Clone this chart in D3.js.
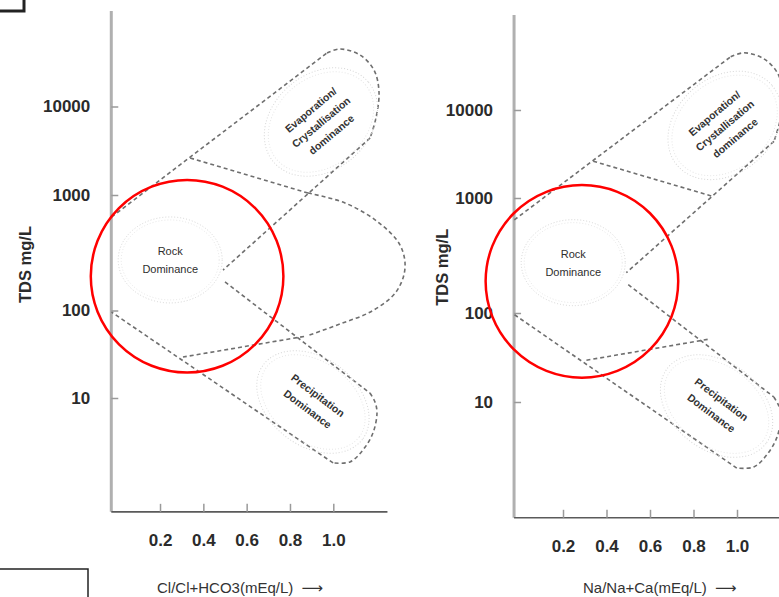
<!DOCTYPE html>
<html lang="en">

<head>
  <meta charset="UTF-8">
  <title>Gibbs Diagram</title>
  <script src="https://d3js.org/d3.v7.min.js"></script>
  <style>
    body {
      margin: 0;
      background: #fff;
    }

    svg {
      display: block;
    }

    .tick text {
      font-family: "Liberation Sans", Arial, sans-serif;
      font-size: 17px;
      font-weight: bold;
      fill: #2b2b2b;
    }

    .tick line {
      stroke: #9a9a9a;
      stroke-width: 1.5;
    }

    .zone {
      fill: none;
      stroke: #6f6f6f;
      stroke-width: 1.6;
      stroke-dasharray: 4 3;
    }

    .halo {
      fill: none;
      stroke: #d6d6d6;
      stroke-width: 1;
      stroke-dasharray: 1 2;
    }

    .zone-label {
      font-family: "Liberation Sans", Arial, sans-serif;
      font-size: 10.5px;
      font-weight: bold;
      fill: #333;
    }

    .rock-label {
      font-family: "Liberation Sans", Arial, sans-serif;
      font-size: 11px;
      fill: #2e2e2e;
    }

    .y-title {
      font-family: "Liberation Sans", Arial, sans-serif;
      font-size: 16.5px;
      font-weight: bold;
      fill: #2b2b2b;
    }

    .x-title {
      font-family: "Liberation Sans", Arial, sans-serif;
      font-size: 15px;
      fill: #333;
    }
  </style>
</head>

<body>
  <div id="chart"></div>

  <script>
    const width = 779
    const height = 597

    const yTicks = [10, 100, 1000, 10000]
    const xTicks = [0.2, 0.4, 0.6, 0.8, 1.0]
    const xTitles = ['Cl/Cl+HCO3(mEq/L)', 'Na/Na+Ca(mEq/L)']
    const yTitle = 'TDS mg/L'

    // zone boundaries as [ratio, TDS mg/L]
    const evapUpper = [[-0.024, 645], [0.971, 40300]]
    const evapCap = [[0.971, 40300], [1.031, 44650], [1.123, 38200], [1.188, 25800], [1.211, 14600], [1.197, 7410], [1.170, 4410]]
    const evapLower = [[1.170, 4410], [0.491, 224]]
    const evapBase = [[0.339, 2620], [0.883, 1053]]
    const loopArc = [[0.883, 1053], [1.054, 853], [1.206, 584], [1.308, 369], [1.331, 233], [1.290, 145], [1.179, 98.7], [1.031, 70.1], [0.879, 51.2]]
    const precipBase = [[0.865, 50.5], [0.306, 29.4]]
    const precipUpper = [[0.5, 176.6], [1.169, 11.4]]
    const precipCap = [[1.169, 11.4], [1.1925, 9.0], [1.2017, 6.74], [1.183, 3.98], [1.137, 2.55], [1.077, 1.86], [0.999, 1.81]]
    const precipLower = [[0.999, 1.81], [-0.024, 96]]

    const rockAt = [0.247, 274]
    const evapAt = [0.943, 6680]
    const precipAt = [0.906, 9.0]
    const highlight = [[0.325, 198], [0.287, 188.5]]

    const xFrame = [-0.025, 1.25]
    const yFrame = [0.5, 120000]

    const panels = [
      { xRange: [116.7, 333.3], yRange: [398, 310.5, 195, 106.5], titleX: 157, yTitleX: 25, loop: true },
      { xRange: [519.5, 737], yRange: [402, 313, 198, 110], titleX: 583, yTitleX: 442, loop: false }
    ]

    const svg = d3.select('#chart')
      .append('svg')
      .attr('width', width)
      .attr('height', height)

    // stray frame pieces from the source figure
    svg.append('rect')
      .attr('x', -10).attr('y', -10).attr('width', 34).attr('height', 21)
      .attr('fill', 'none').attr('stroke', '#222').attr('stroke-width', 3)
    svg.append('rect')
      .attr('x', -10).attr('y', 569).attr('width', 98).attr('height', 40)
      .attr('fill', 'none').attr('stroke', '#222').attr('stroke-width', 1.5)

    panels.forEach((p, i) => {
      const x = d3.scaleLinear().domain([0, 1]).range(p.xRange)
      const y = d3.scaleLog().domain(yTicks).range(p.yRange)
      const g = svg.append('g')

      const line = d3.line().x(d => x(d[0])).y(d => y(d[1]))
      const smooth = d3.line().x(d => x(d[0])).y(d => y(d[1])).curve(d3.curveCatmullRom.alpha(0.5))

      // axes
      g.append('line')
        .attr('x1', x(xFrame[0])).attr('x2', x(xFrame[0]))
        .attr('y1', y(yFrame[1])).attr('y2', y(yFrame[0]))
        .attr('stroke', '#b0b0b0').attr('stroke-width', 3)

      g.append('line')
        .attr('x1', x(xFrame[0])).attr('x2', x(xFrame[1]))
        .attr('y1', y(yFrame[0])).attr('y2', y(yFrame[0]))
        .attr('stroke', '#5a5a5a').attr('stroke-width', 1.6)

      g.append('g')
        .attr('transform', `translate(${x(xFrame[0])},0)`)
        .call(d3.axisLeft(y).tickValues(yTicks).tickFormat(d3.format('d'))
          .tickSizeInner(-7).tickSizeOuter(0).tickPadding(21))
        .call(a => a.select('.domain').remove())

      g.append('g')
        .attr('transform', `translate(0,${y(yFrame[0])})`)
        .call(d3.axisBottom(x).tickValues(xTicks).tickFormat(d3.format('.1f'))
          .tickSizeInner(-8).tickSizeOuter(0).tickPadding(22))
        .call(a => a.select('.domain').remove())

      g.append('text')
        .attr('class', 'y-title')
        .attr('transform', `translate(${p.yTitleX},${y(250)}) rotate(-90)`)
        .attr('text-anchor', 'middle')
        .attr('dominant-baseline', 'central')
        .text(yTitle)

      const xt = g.append('text')
        .attr('class', 'x-title')
        .attr('x', p.titleX)
        .attr('y', 593)
      xt.append('tspan').text(xTitles[i] + ' ')
      xt.append('tspan').attr('font-family', 'DejaVu Sans').attr('dx', 4).text('\u27F6')

      // zone outlines
      g.append('path').attr('class', 'zone').attr('d', line(evapUpper))
      g.append('path').attr('class', 'zone').attr('d', smooth(evapCap))
      g.append('path').attr('class', 'zone').attr('d', line(evapLower))
      g.append('path').attr('class', 'zone').attr('d', line(evapBase))
      if (p.loop) g.append('path').attr('class', 'zone').attr('d', smooth(loopArc))
      g.append('path').attr('class', 'zone').attr('d', line(precipBase))
      g.append('path').attr('class', 'zone').attr('d', line(precipUpper))
      g.append('path').attr('class', 'zone').attr('d', smooth(precipCap))
      g.append('path').attr('class', 'zone').attr('d', line(precipLower))

      // rock dominance
      const rock = g.append('g')
        .attr('transform', `translate(${x(rockAt[0])},${y(rockAt[1])})`)
      rock.append('ellipse').attr('class', 'halo').attr('rx', 52).attr('ry', 43)
      rock.append('ellipse').attr('class', 'halo').attr('rx', 49).attr('ry', 40).attr('opacity', 0.6)
      rock.selectAll('text')
        .data(['Rock', 'Dominance'])
        .enter()
        .append('text')
        .attr('class', 'rock-label')
        .attr('text-anchor', 'middle')
        .attr('dominant-baseline', 'central')
        .attr('y', (_, k) => k * 18 - 9)
        .text(d => d)

      // evaporation
      const evap = g.append('g')
        .attr('transform', `translate(${x(evapAt[0])},${y(evapAt[1])}) rotate(-40)`)
      evap.append('ellipse').attr('class', 'halo').attr('rx', 62).attr('ry', 48)
      evap.append('ellipse').attr('class', 'halo').attr('rx', 58).attr('ry', 44).attr('opacity', 0.6)
      evap.selectAll('text')
        .data(['Evaporation/', 'Crystallisation', 'dominance'])
        .enter()
        .append('text')
        .attr('class', 'zone-label')
        .attr('text-anchor', 'middle')
        .attr('dominant-baseline', 'central')
        .attr('y', (_, k) => (k - 1) * 16)
        .text(d => d)

      // precipitation
      const prec = g.append('g')
        .attr('transform', `translate(${x(precipAt[0])},${y(precipAt[1])}) rotate(37)`)
      prec.append('ellipse').attr('class', 'halo').attr('rx', 62).attr('ry', 44)
      prec.append('ellipse').attr('class', 'halo').attr('rx', 58).attr('ry', 40).attr('opacity', 0.6)
      prec.selectAll('text')
        .data(['Precipitation', 'Dominance'])
        .enter()
        .append('text')
        .attr('class', 'zone-label')
        .attr('text-anchor', 'middle')
        .attr('dominant-baseline', 'central')
        .attr('y', (_, k) => k * 17 - 8.5)
        .text(d => d)

      // red highlight circle
      g.append('circle')
        .attr('cx', x(highlight[i][0]))
        .attr('cy', y(highlight[i][1]))
        .attr('r', 96.3)
        .attr('fill', 'none')
        .attr('stroke', '#f00')
        .attr('stroke-width', 2.5)
    })
  </script>
</body>

</html>
